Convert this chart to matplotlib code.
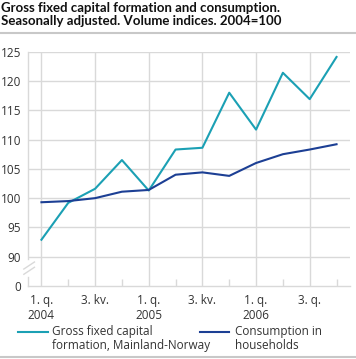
import matplotlib.pyplot as plt
from matplotlib.lines import Line2D

# quarters 2004 Q1 .. 2006 Q4
quarters = list(range(12))
gross_fixed = [92.9, 99.2, 101.6, 106.5, 101.3, 108.3, 108.6, 118.0, 111.7, 121.4, 116.9, 124.1]
consumption = [99.3, 99.5, 100.0, 101.1, 101.4, 104.0, 104.4, 103.8, 106.0, 107.5, 108.3, 109.2]

tick_pos = [0, 2, 4, 6, 8, 10]
tick_labels = ["1. q.\n2004", "3. kv.", "1. q.\n2005", "3. kv.", "1. q.\n2006", "3. q."]
ytick_vals = [85, 90, 95, 100, 105, 110, 115, 120, 125]
ytick_labels = ["0", "90", "95", "100", "105", "110", "115", "120", "125"]

teal = "#1ba0b4"
navy = "#1c3f94"
grid_c = "#d9d9d9"
text_c = "#333333"

plt.rcParams['font.family'] = ['Open Sans', 'DejaVu Sans']

fig = plt.figure(figsize=(3.56, 3.59), dpi=100)
ax = fig.add_axes([0.0787, 0.2033, 0.9043, 0.6527])

ax.plot(quarters, gross_fixed, color=teal, lw=1.5, zorder=3)
ax.plot(quarters, consumption, color=navy, lw=1.5, zorder=3)

ax.set_xlim(-0.5, 11.5)
ax.set_ylim(85, 125)
ax.set_yticks(ytick_vals)
ax.set_yticklabels(ytick_labels)
ax.set_xticks(tick_pos)
ax.set_xticklabels(tick_labels, linespacing=1.2)
ax.set_xticks(quarters, minor=True)

ax.tick_params(axis='y', length=0, pad=5, labelsize=8.5, labelcolor=text_c)
ax.tick_params(axis='x', which='major', length=0, pad=6, labelsize=8.5, labelcolor=text_c)
ax.tick_params(axis='x', which='minor', direction='in', length=5, color=grid_c, width=1)

for y in ytick_vals[1:]:
    ax.axhline(y, color=grid_c, lw=1, zorder=1)
for x in tick_pos:
    ax.axvline(x, color=grid_c, lw=1, zorder=1)

for s in ['top', 'right', 'left']:
    ax.spines[s].set_visible(False)
ax.spines['bottom'].set_color(grid_c)
ax.spines['bottom'].set_linewidth(1)

# broken y axis
tr = ax.get_yaxis_transform()
ax.plot([0, 0], [89.65, 125], color=grid_c, lw=1, transform=tr, clip_on=False)
ax.plot([0, 0], [85, 86.6], color=grid_c, lw=1, transform=tr, clip_on=False)
ax.plot([-0.013, 0.02], [87.9, 89.1], color=grid_c, lw=1, transform=tr, clip_on=False)
ax.plot([-0.013, 0.02], [87.0, 88.2], color=grid_c, lw=1, transform=tr, clip_on=False)

# title
fig.text(0.003, 0.995, "Gross fixed capital formation and consumption.\nSeasonally adjusted. Volume indices. 2004=100",
         ha='left', va='top', fontsize=9.5, fontweight='bold', color='#111111', linespacing=1.15,
         family=['Lato', 'DejaVu Sans'])
fig.add_artist(Line2D([0, 1], [0.908, 0.908], color='#c8c8c8', lw=1.5))
fig.add_artist(Line2D([0, 1], [0.0056, 0.0056], color='#c8c8c8', lw=1.5))

# legend
fig.add_artist(Line2D([0.0506, 0.135], [0.076, 0.076], color=teal, lw=1.5))
fig.text(0.146, 0.0947, "Gross fixed capital\nformation, Mainland-Norway", ha='left', va='top',
         fontsize=8.5, color=text_c, linespacing=1.13)
fig.add_artist(Line2D([0.562, 0.643], [0.076, 0.076], color=navy, lw=1.5))
fig.text(0.660, 0.0947, "Consumption in\nhouseholds", ha='left', va='top',
         fontsize=8.5, color=text_c, linespacing=1.13)

fig.savefig("out.png", dpi=100)
